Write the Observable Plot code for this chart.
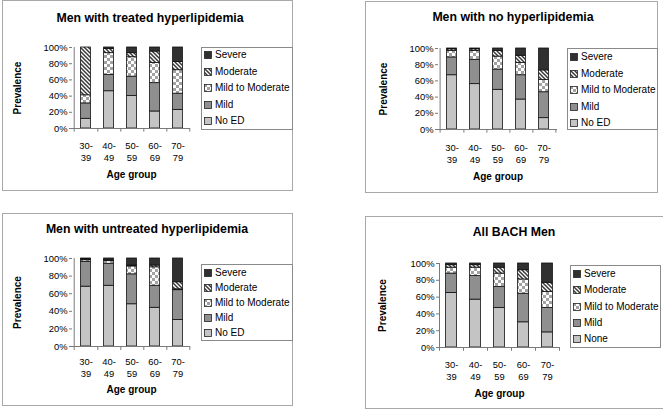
<!DOCTYPE html>
<html><head><meta charset="utf-8">
<script src="https://cdn.jsdelivr.net/npm/d3@7"></script>
<script src="https://cdn.jsdelivr.net/npm/@observablehq/plot@0.6"></script>
<style>
body{margin:0;background:#fff;font-family:"Liberation Sans",Arial,sans-serif;color:#000;}
#root{position:relative;width:663px;height:411px;overflow:hidden;background:#fff;}
.panel{position:absolute;border:1px solid #a8a8a8;box-sizing:border-box;}
.title{position:absolute;font-weight:bold;font-size:12.3px;white-space:nowrap;transform:translate(-50%,-50%);}
.legend{position:absolute;border:1px solid #8a8a8a;box-sizing:border-box;background:#fff;}
.item{position:absolute;font-size:10px;white-space:nowrap;display:flex;align-items:center;height:12px;line-height:12px;}
.item svg{margin-right:3px;}
.chart{position:absolute;}
</style>
</head><body>
<svg width="0" height="0" style="position:absolute;left:0;top:0"><defs>
<pattern id="pChk" width="6" height="6" patternUnits="userSpaceOnUse"><rect width="6" height="6" fill="#fff"/><rect width="3" height="3" fill="#a2a2a2"/><rect x="3" y="3" width="3" height="3" fill="#a2a2a2"/></pattern>
<pattern id="pHatch" width="4" height="4" patternUnits="userSpaceOnUse"><rect width="4" height="4" fill="#fff"/><path d="M-1,-1 L5,5 M3,-1 L5,1 M-1,3 L1,5" stroke="#383838" stroke-width="1.5"/></pattern>
</defs></svg>
<div id="root"></div>
<script>
// ---- data ----
const ageGroups = ["30-39", "40-49", "50-59", "60-69", "70-79"];
const severities = ["No ED", "Mild", "Mild to Moderate", "Moderate", "Severe"];
const yTicks = [0, 0.2, 0.4, 0.6, 0.8, 1];
const panelTitles = ["Men with treated hyperlipidemia", "Men with no hyperlipidemia", "Men with untreated hyperlipidemia", "All BACH Men"];
const legendLabelsED = ["Severe", "Moderate", "Mild to Moderate", "Mild", "No ED"];
const legendLabelsNone = ["Severe", "Moderate", "Mild to Moderate", "Mild", "None"];
// percentages per age group: [No ED, Mild, Mild to Moderate, Moderate, Severe]
const treatedPct = [[12, 19, 10, 59, 0], [46, 20, 27, 5, 2], [40, 24, 24, 5, 7], [21, 35, 25, 14, 5], [23, 20, 29, 10, 18]];
const noHyperPct = [[67, 22, 8, 2, 1], [56, 30, 11, 2, 1], [49, 25, 16, 7, 3], [37, 30, 15, 9, 9], [14, 32, 15, 12, 27]];
const untreatedPct = [[68, 28, 2, 1, 1], [69, 25, 3, 1, 2], [48, 34, 9, 1, 8], [44, 25, 21, 2, 8], [30, 34, 1, 8, 27]];
const allBachPct = [[65, 23, 7, 3, 2], [57, 28, 10, 3, 2], [47, 25, 16, 7, 5], [30, 34, 17, 11, 8], [18, 29, 19, 11, 23]];

const fills = ["#c4c4c4", "#8f8f8f", "url(#pChk)", "url(#pHatch)", "#303030"];
const axisGray = "#7a7a7a";

const panels = [
  {title: panelTitles[0], data: treatedPct, legend: legendLabelsED,
   border: [2, 0, 293, 191], titlePos: [150, 18], area: [72, 47, 190, 128],
   tickPad: 11.5, xLabelDy: 46, yLabelDx: -55,
   leg: [201, 47, 293, 130], legY0: 55, legStep: 16.5},
  {title: panelTitles[1], data: noHyperPct, legend: legendLabelsED,
   border: [365, 1, 658, 193], titlePos: [513, 17], area: [438, 48, 557, 129],
   tickPad: 13, xLabelDy: 47, yLabelDx: -55,
   leg: [567, 48, 658, 130], legY0: 57, legStep: 16.5},
  {title: panelTitles[2], data: untreatedPct, legend: legendLabelsED,
   border: [2, 213, 293, 406], titlePos: [147, 229], area: [72, 258, 190, 346],
   tickPad: 10, xLabelDy: 43, yLabelDx: -55,
   leg: [201, 264, 293, 341], legY0: 273, legStep: 15},
  {title: panelTitles[3], data: allBachPct, legend: legendLabelsNone,
   border: [365, 216, 664, 409], titlePos: [514, 232], area: [439, 263, 559, 347],
   tickPad: 11.5, xLabelDy: 46, yLabelDx: -57,
   leg: [570, 265, 661, 348], legY0: 274, legStep: 16.3}
];

const root = document.getElementById("root");

function el(tag, cls, style) {
  const e = document.createElement(tag);
  if (cls) e.className = cls;
  Object.assign(e.style, style || {});
  return e;
}

for (const p of panels) {
  const [bx0, by0, bx1, by1] = p.border;
  root.appendChild(el("div", "panel", {left: bx0 + "px", top: by0 + "px", width: (bx1 - bx0) + "px", height: (by1 - by0) + "px"}));
  const t = el("div", "title", {left: p.titlePos[0] + "px", top: p.titlePos[1] + "px"});
  t.textContent = p.title;
  root.appendChild(t);

  const rows = [];
  ageGroups.forEach((a, i) => severities.forEach((s, j) => rows.push({age: a, sev: s, v: p.data[i][j] / 100})));

  const [ax0, ay0, ax1, ay1] = p.area;
  const ml = 70, mt = 10, mr = 4, mb = 58;
  const svgLeft = ax0 - ml, svgTop = ay0 - mt;
  const width = ax1 - svgLeft + mr;
  const height = (ay1 - ay0) + mt + mb;
  const bw = (ax1 - ax0) / ageGroups.length;

  const chart = Plot.plot({
    width, height,
    marginLeft: ml, marginTop: mt, marginRight: mr, marginBottom: mb,
    style: {fontFamily: "Liberation Sans, Arial, sans-serif", background: "transparent", color: "#000"},
    x: {domain: ageGroups, padding: 0},
    y: {domain: [0, 1]},
    color: {domain: severities, range: fills},
    marks: [
      Plot.barY(rows, Plot.stackY({x: "age", y: "v", fill: "sev", order: severities,
        insetLeft: 6.6, insetRight: 6.6, stroke: "#111", strokeWidth: 0.8})),
      Plot.ruleY([0], {stroke: axisGray}),
      Plot.ruleX([ageGroups[0]], {x: d => d, dx: -bw / 2, y1: -0.045, y2: 1, stroke: axisGray}),
      Plot.ruleX(ageGroups, {x: d => d, dx: bw / 2, y1: -0.045, y2: 0, stroke: axisGray}),
      Plot.axisY({ticks: yTicks, tickFormat: d => Math.round(d * 100) + "%", tickSize: 3, tickPadding: 2,
        fontSize: 9.4, stroke: axisGray, label: null}),
      Plot.axisX({tickSize: 0, tickPadding: p.tickPad, fontSize: 9.4, lineHeight: 1.28,
        tickFormat: d => d.replace("-", "-\n"), label: null}),
      Plot.text(["Prevalence"], {text: d => d, frameAnchor: "left", rotate: -90, dx: p.yLabelDx,
        textAnchor: "middle", lineAnchor: "middle", fontWeight: "bold", fontSize: 10}),
      Plot.text(["Age group"], {text: d => d, frameAnchor: "bottom", dy: p.xLabelDy,
        textAnchor: "middle", lineAnchor: "middle", fontWeight: "bold", fontSize: 10})
    ]
  });
  chart.classList.add("chart");
  chart.style.left = svgLeft + "px";
  chart.style.top = svgTop + "px";
  chart.style.position = "absolute";
  root.appendChild(chart);

  const [lx0, ly0, lx1, ly1] = p.leg;
  const leg = el("div", "legend", {left: lx0 + "px", top: ly0 + "px", width: (lx1 - lx0) + "px", height: (ly1 - ly0) + "px"});
  root.appendChild(leg);
  p.legend.forEach((lab, k) => {
    const fill = fills[severities.length - 1 - k];
    const it = el("div", "item", {left: (lx0 + 3) + "px", top: (p.legY0 + k * p.legStep - 6) + "px"});
    it.innerHTML = `<svg width="8" height="8"><rect x="0.5" y="0.5" width="7" height="7" fill="${fill}" stroke="#222" stroke-width="0.8"/></svg><span>${lab}</span>`;
    root.appendChild(it);
  });
}
</script>
</body></html>
